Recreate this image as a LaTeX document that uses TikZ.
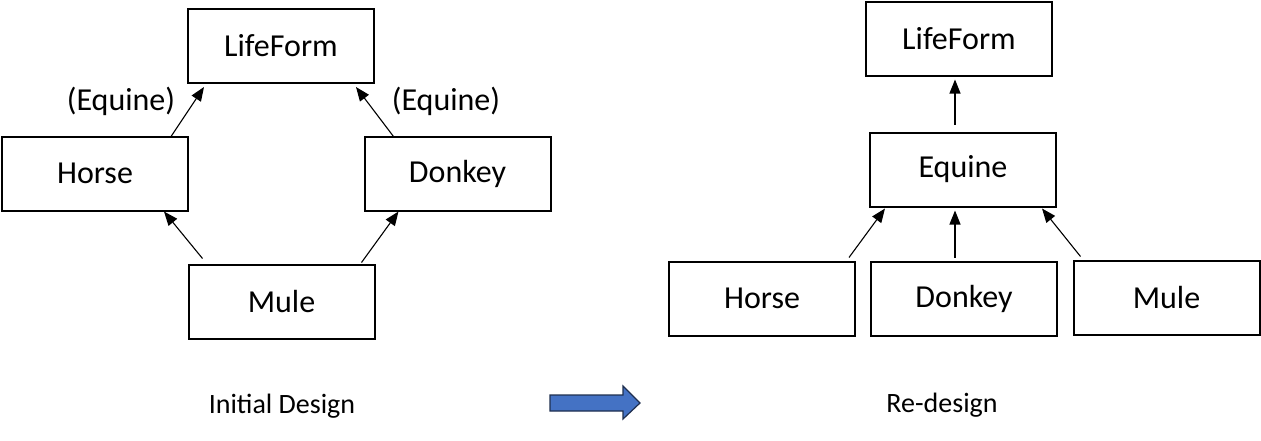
\documentclass[tikz,border=0pt]{standalone}
\usepackage{fontspec}
\setmainfont{Carlito}
\usetikzlibrary{arrows.meta}
\definecolor{arrowblue}{HTML}{4472C4}
\definecolor{arrowedge}{HTML}{1F2F4F}
\tikzset{
  box/.style={draw=black, line width=2pt, minimum width=186pt, minimum height=74pt,
    inner sep=0pt, outer sep=0pt, font=\fontsize{32}{36}\selectfont},
  lbl/.style={inner sep=0pt, font=\fontsize{32}{36}\selectfont},
  captext/.style={inner sep=0pt, font=\fontsize{28}{30}\selectfont},
  arr/.style={line width=1.1pt, -{Triangle[length=14pt,width=11pt]}},
  bigarrow/.style={fill=arrowblue, draw=arrowedge, line width=1.2pt, line join=miter}
}
\begin{document}
\begin{tikzpicture}[x=1pt,y=-1pt]
\useasboundingbox (0,0) rectangle (1261,440);
% initial design
\node[box] (lL) at (281,46) {LifeForm};
\node[box] (lH) at (95,173.5) {Horse};
\node[box] (lD) at (457.5,173.5) {Donkey};
\node[box] (lM) at (281.5,301.5) {Mule};
\node[lbl] (le1) at (121,101) {(Equine)};
\node[lbl] (le2) at (446,101) {(Equine)};
\draw[arr] ([xshift=-17pt]lH.north east) -- ([xshift=16pt,yshift=-4pt]lL.south west);
\draw[arr] ([xshift=29pt]lD.north west) -- ([xshift=-18pt,yshift=-4pt]lL.south east);
\draw[arr] ([xshift=14pt,yshift=6pt]lM.north west) -- ([xshift=-24pt,yshift=-1pt]lH.south east);
\draw[arr] ([xshift=-13pt,yshift=2pt]lM.north east) -- ([xshift=34pt,yshift=-1pt]lD.south west);
% re-design
\node[box] (rL) at (959,38.5) {LifeForm};
\node[box] (rE) at (963,169.5) {Equine};
\node[box] (rH) at (762,298.5) {Horse};
\node[box] (rD) at (964,298.5) {Donkey};
\node[box] (rM) at (1166.5,297.5) {Mule};
\draw[arr] ([xshift=-8pt,yshift=8pt]rE.north) -- ([xshift=-4pt,yshift=-4pt]rL.south);
\draw[arr] ([xshift=-6pt,yshift=4pt]rH.north east) -- ([xshift=15pt,yshift=-2pt]rE.south west);
\draw[arr] ([xshift=-9pt,yshift=4pt]rD.north) -- ([xshift=-8pt,yshift=-4pt]rE.south);
\draw[arr] ([xshift=7pt,yshift=4pt]rM.north west) -- ([xshift=-14pt,yshift=-2pt]rE.south east);
% captions
\node[captext] (c1) at (282,406) {Initial Design};
\node[captext] (c2) at (942,405) {Re-design};
% block arrow
\draw[bigarrow] (550,395) -- (623,395) -- (623,386) -- (640,403) -- (623,419) -- (623,411) -- (550,411) -- cycle;
\end{tikzpicture}
\end{document}
